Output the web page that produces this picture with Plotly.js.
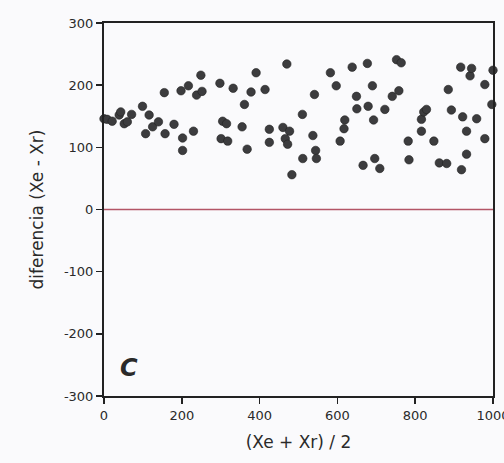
<!DOCTYPE html>
<html>
<head>
<meta charset="utf-8">
<script src="https://cdn.plot.ly/plotly-3.0.1.min.js"></script>
<style>html,body{margin:0;padding:0;background:#fafafc;}#chart{width:504px;height:463px;}</style>
</head>
<body>
<div id="chart"></div>
<script>
const meanX = [0, 8, 21, 39, 43, 52, 60, 71, 99, 107, 116, 125, 140, 155, 157, 180, 198, 202, 202, 217, 230, 238, 249, 252,
  298, 301, 305, 315, 318, 332, 355, 361, 368, 378, 391, 414, 425, 425, 460, 466, 470, 472, 477, 483,
  510, 511, 537, 541, 544, 546, 582, 597, 607, 617, 619, 638, 649, 650, 666, 677, 679, 690, 693, 696, 709,
  722, 741, 752, 758, 764, 782, 784, 816, 816, 822, 829, 848, 862, 881, 885, 893, 917, 919, 922, 932, 932,
  941, 945, 958, 979, 979, 997, 1000];
const diffY = [146, 145, 142, 152, 157, 138, 141, 153, 166, 122, 152, 133, 141, 188, 122, 137, 191, 115, 95, 199, 126, 184, 216, 190,
  203, 114, 142, 138, 110, 195, 133, 169, 97, 189, 220, 193, 129, 108, 132, 114, 234, 105, 126, 56,
  153, 82, 119, 185, 95, 82, 220, 199, 110, 130, 144, 229, 182, 162, 71, 235, 166, 199, 144, 82, 66,
  161, 182, 241, 191, 236, 110, 80, 145, 126, 157, 161, 110, 75, 74, 193, 160, 229, 64, 149, 126, 89,
  215, 227, 146, 201, 114, 169, 224];
const refX = [0, 1000];
const refY = [0, 0];
const xTicks = [0, 200, 400, 600, 800, 1000];
const yTicks = [-300, -200, -100, 0, 100, 200, 300];

const traces = [
  {x: refX, y: refY, type: 'scatter', mode: 'lines', line: {color: '#b35566', width: 1.5}, hoverinfo: 'skip'},
  {x: meanX, y: diffY, type: 'scatter', mode: 'markers', cliponaxis: false,
   marker: {color: '#3c3c3e', size: 8.5, line: {color: '#222', width: 0.6}}}
];
const fontFam = '"DejaVu Sans", sans-serif';
const layout = {
  width: 504, height: 463,
  margin: {l: 104, r: 11, t: 23, b: 67},
  paper_bgcolor: '#fafafc', plot_bgcolor: '#fafafc',
  showlegend: false,
  font: {family: fontFam, color: '#2a2a2a', size: 13},
  xaxis: {
    range: [0, 1000], tickvals: xTicks, ticktext: xTicks.map(String),
    showgrid: false, zeroline: false, showline: true, linecolor: '#222', linewidth: 2,
    mirror: true, ticks: 'outside', ticklen: 6, tickwidth: 1.5, tickcolor: '#222',
    ticklabeloverflow: 'allow',
    tickfont: {family: fontFam, size: 13, color: '#2a2a2a'},
    title: {text: '(Xe + Xr) / 2', font: {family: fontFam, size: 17, color: '#2a2a2a'}, standoff: 15}
  },
  yaxis: {
    range: [-300, 300], tickvals: yTicks, ticktext: yTicks.map(String),
    showgrid: false, zeroline: false, showline: true, linecolor: '#222', linewidth: 2,
    mirror: true, ticks: 'outside', ticklen: 6, tickwidth: 1.5, tickcolor: '#222',
    tickfont: {family: fontFam, size: 13, color: '#2a2a2a'},
    title: {text: 'diferencia (Xe - Xr)', font: {family: fontFam, size: 17, color: '#2a2a2a'}, standoff: 16}
  },
  annotations: [
    {x: 64, y: -255, xref: 'x', yref: 'y', text: '<b><i>C</i></b>', showarrow: false,
     font: {family: fontFam, size: 24, color: '#2a2a2a'}}
  ]
};
Plotly.newPlot('chart', traces, layout, {displayModeBar: false, staticPlot: true});
</script>
</body>
</html>
